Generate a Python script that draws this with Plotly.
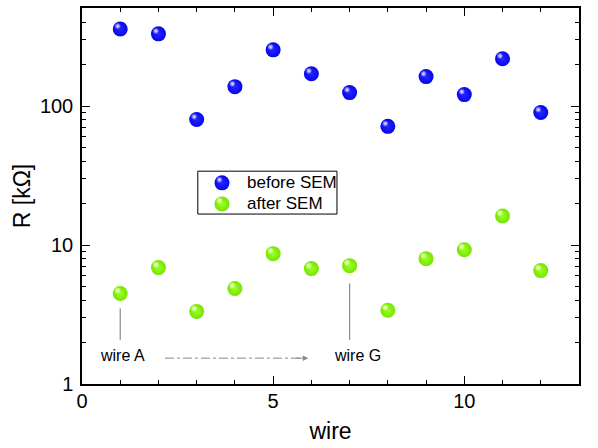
import math
import plotly.graph_objects as go

# resistance per wire, before and after SEM imaging (kOhm)
wire = [1, 2, 3, 4, 5, 6, 7, 8, 9, 10, 11, 12]
r_before = [359, 331, 80, 138, 254, 171, 125, 71.5, 163, 121, 219, 90]
r_after = [4.48, 6.88, 3.33, 4.87, 8.67, 6.77, 7.11, 3.39, 7.98, 9.25, 16.2, 6.55]
series_names = ["before SEM", "after SEM"]

BLUE = "#2626ff"
BLUE_EDGE = "#0606ee"
GREEN = "#9cff26"
GREEN_EDGE = "#76e400"
GREY = "#8a8a8a"
FONT = "Liberation Sans, Arial, sans-serif"

# specular spot sits a little up and to the left of each ball centre
HL_DX = -0.065          # in wire units (~2.5 px)
HL_FY = 10 ** (0.02)    # multiplicative shift on the log axis (~3 px)

fig = go.Figure()


def sphere_traces(x, y, body, edge, xaxis="x", yaxis="y", size=15,
                  dx=HL_DX, fy=HL_FY, dy=0.0):
    hx = [v + dx for v in x]
    hy = [v * fy + dy for v in y]
    return [
        go.Scatter(x=x, y=y, mode="markers", xaxis=xaxis, yaxis=yaxis,
                   showlegend=False,
                   marker=dict(size=size, color=edge, line=dict(width=0),
                               gradient=dict(type="radial", color=body))),
        go.Scatter(x=hx, y=hy, mode="markers", xaxis=xaxis, yaxis=yaxis,
                   showlegend=False, hoverinfo="skip",
                   marker=dict(size=size * 0.42, color=body,
                               line=dict(width=0),
                               gradient=dict(type="radial", color="#ffffff"))),
    ]


for t in sphere_traces(wire, r_before, BLUE, BLUE_EDGE):
    fig.add_trace(t)
for t in sphere_traces(wire, r_after, GREEN, GREEN_EDGE):
    fig.add_trace(t)

# pointer lines under wire A and wire G
for xw, ytop in [(1, 3.5), (7, 5.28)]:
    fig.add_trace(go.Scatter(x=[xw, xw], y=[2.07, ytop], mode="lines",
                             line=dict(color=GREY, width=1.2),
                             showlegend=False, hoverinfo="skip"))

# dash-dot arrow from wire A toward wire G
y_arrow = 1.535
fig.add_trace(go.Scatter(x=[2.17, 5.75], y=[y_arrow, y_arrow], mode="lines",
                         line=dict(color=GREY, width=1, dash="dashdot"),
                         showlegend=False, hoverinfo="skip"))
fig.add_annotation(x=5.92, y=math.log10(y_arrow), xref="x", yref="y",
                   ax=-14, ay=0, text="", showarrow=True, arrowhead=2,
                   arrowsize=1.1, arrowwidth=1, arrowcolor=GREY)

for label, xl in [("wire A", 1.07), ("wire G", 7.2)]:
    fig.add_annotation(x=xl, y=math.log10(1.61), xref="x", yref="y",
                       text=label, showarrow=False,
                       font=dict(family=FONT, size=16, color="#000000"))

# boxed legend drawn on an overlay axis spanning the plot area
leg_x0, leg_x1, leg_y0, leg_y1 = 0.233, 0.513, 0.452, 0.566
leg_rows = [0.535, 0.479]
fig.add_shape(type="rect", xref="x2", yref="y2", x0=leg_x0, x1=leg_x1,
              y0=leg_y0, y1=leg_y1, line=dict(color="#000000", width=1),
              fillcolor="rgba(255,255,255,0)", layer="above")
for name, yr, body, edge in zip(series_names, leg_rows, [BLUE, GREEN],
                                [BLUE_EDGE, GREEN_EDGE]):
    for t in sphere_traces([0.2817], [yr], body, edge, xaxis="x2", yaxis="y2",
                           size=15, dx=-0.005, fy=1.0, dy=0.008):
        fig.add_trace(t)
    fig.add_annotation(x=0.328, y=yr, xref="x2", yref="y2", text=name,
                       showarrow=False, xanchor="left", yanchor="middle",
                       font=dict(family=FONT, size=17, color="#000000"))

axis_common = dict(showline=True, linecolor="#000000", linewidth=1.5,
                   mirror="ticks", ticks="inside", tickcolor="#000000",
                   showgrid=False, zeroline=False,
                   tickfont=dict(family=FONT, size=20, color="#000000"))

xaxis = dict(range=[0, 13], tickvals=[0, 5, 10], ticklen=8, tickwidth=1.2,
             ticklabelstandoff=-2,
             minor=dict(tickvals=list(range(1, 13)), ticks="inside",
                        ticklen=4, tickcolor="#000000"),
             title=dict(text="wire", font=dict(family=FONT, size=23),
                        standoff=12),
             **axis_common)

yaxis = dict(type="log", range=[0, math.log10(508)],
             tickvals=[1, 10, 100], ticktext=["1", "10", "100"],
             ticklen=8, tickwidth=1.2, ticklabelstandoff=3,
             minor=dict(tickvals=[m * d for d in (1, 10, 100) for m in range(2, 10)],
                        ticks="inside", ticklen=4, tickcolor="#000000"),
             title=dict(text="R [kΩ]", font=dict(family=FONT, size=23),
                        standoff=3),
             **axis_common)

fig.update_layout(
    width=598, height=448,
    margin=dict(l=82, r=19, t=6, b=64),
    plot_bgcolor="#ffffff", paper_bgcolor="#ffffff",
    font=dict(family=FONT, color="#000000"),
    showlegend=False,
    xaxis=xaxis, yaxis=yaxis,
    xaxis2=dict(overlaying="x", range=[0, 1], visible=False, fixedrange=True),
    yaxis2=dict(overlaying="y", range=[0, 1], visible=False, fixedrange=True),
)

fig.write_html("out.html")
